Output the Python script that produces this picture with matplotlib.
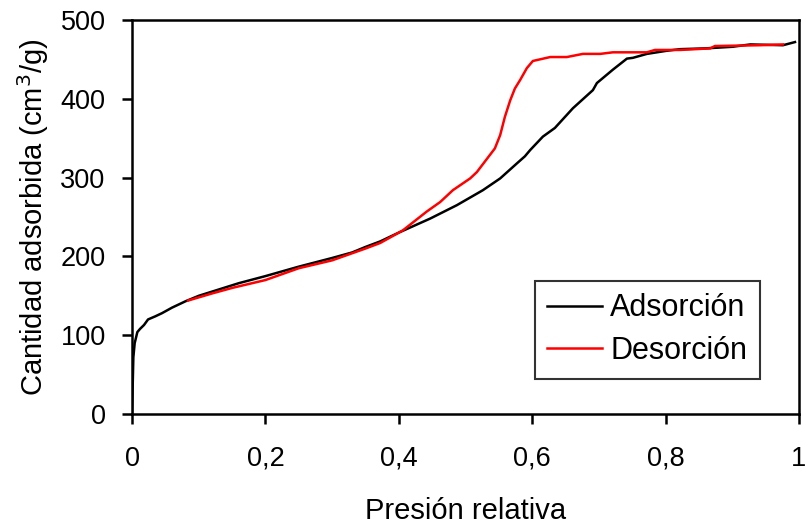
import matplotlib
matplotlib.use("Agg")
import matplotlib.pyplot as plt

plt.rcParams['font.family'] = ['Liberation Sans', 'DejaVu Sans']

# isotherm data
p_ads = [0.0, 0.002, 0.004, 0.008, 0.012, 0.018, 0.024, 0.035, 0.045, 0.06, 0.08,
         0.1, 0.13, 0.16, 0.2, 0.25, 0.3, 0.33, 0.35, 0.372, 0.402, 0.447, 0.487,
         0.526, 0.552, 0.577, 0.589, 0.597, 0.616, 0.634, 0.661, 0.691, 0.697,
         0.721, 0.742, 0.751, 0.772, 0.802, 0.822, 0.86, 0.9, 0.927, 0.976, 0.994]
v_ads = [0, 72, 90, 104, 108, 113, 120, 124, 128, 135, 143,
         150, 158, 166, 175, 187, 198, 205, 212, 219, 231, 248, 265,
         284, 299, 318, 327, 335, 352, 363, 388, 411, 420,
         437, 451, 452, 457, 461, 463, 464, 466, 469, 468, 472]

p_des = [0.976, 0.942, 0.874, 0.867, 0.822, 0.784, 0.772, 0.721, 0.702, 0.676,
         0.652, 0.627, 0.601, 0.592, 0.582, 0.574, 0.567, 0.559, 0.552, 0.544,
         0.517, 0.507, 0.481, 0.462, 0.442, 0.406, 0.372, 0.35, 0.3, 0.25,
         0.2, 0.15, 0.12, 0.084]
v_des = [469, 468, 467, 464, 462, 462, 459, 459, 457, 457,
         453, 453, 448, 439, 424, 413, 398, 377, 354, 337,
         307, 299, 284, 269, 257, 233, 217, 210, 195, 185,
         170, 160, 153, 144]

xticks = [0, 0.2, 0.4, 0.6, 0.8, 1]
xtick_labels = ["0", "0,2", "0,4", "0,6", "0,8", "1"]
yticks = [0, 100, 200, 300, 400, 500]

fig = plt.figure(figsize=(8.06, 5.25), dpi=100)
ax = fig.add_axes([0.1638, 0.2114, 0.8275, 0.7505])

ax.plot(p_ads, v_ads, color="black", lw=1.8, label="Adsorción")
ax.plot(p_des, v_des, color="red", lw=1.8, label="Desorción")

ax.set_xlim(0, 1)
ax.set_ylim(0, 500)
ax.set_xticks(xticks)
ax.set_xticklabels(xtick_labels)
ax.set_yticks(yticks)

for s in ax.spines.values():
    s.set_linewidth(1.8)
ax.tick_params(direction="out", length=7, width=1.8, labelsize=19.5)
ax.tick_params(axis="x", pad=16)
ax.tick_params(axis="y", pad=12)

ax.set_xlabel("Presión relativa", fontsize=21, labelpad=18)
ax.set_ylabel("Cantidad adsorbida (cm$^3$/g)", fontsize=21, labelpad=7)

leg = ax.legend(loc="lower right", bbox_to_anchor=(0.9415, 0.0888), fontsize=22,
                frameon=True, fancybox=False, edgecolor="black",
                handlelength=1.8, handletextpad=0.25, borderpad=0.42,
                labelspacing=0.42, borderaxespad=0)
leg.get_frame().set_linewidth(1.5)

fig.savefig("out.png", dpi=100)
